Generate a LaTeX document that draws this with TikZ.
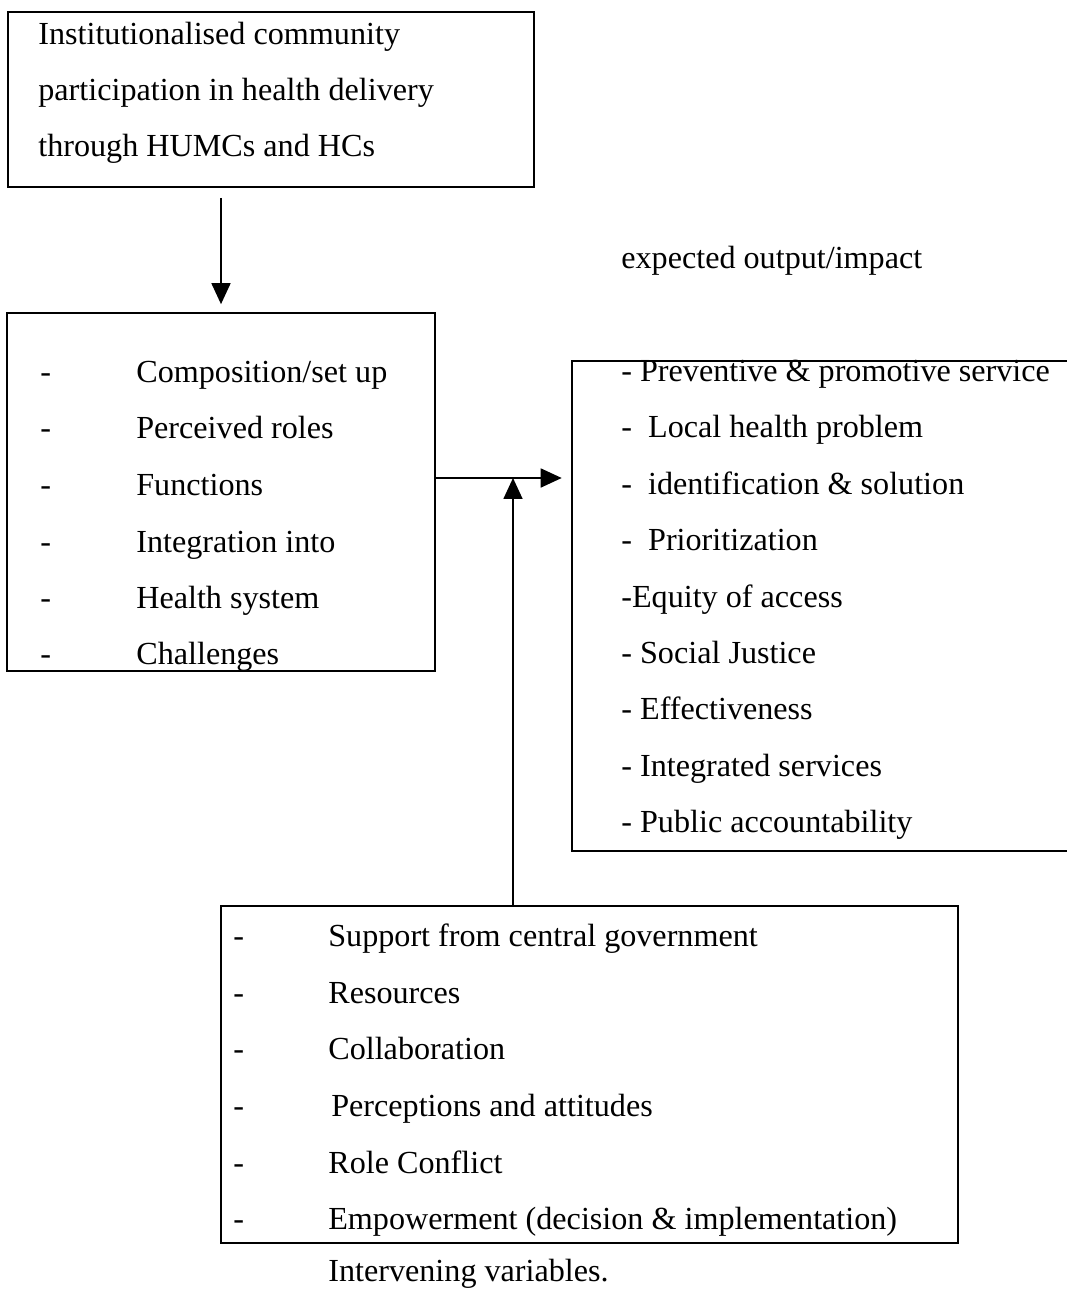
\documentclass[tikz,border=0pt]{standalone}
\usepackage{fontspec}
\setmainfont{Liberation Serif}
\usetikzlibrary{arrows.meta, positioning, calc}

\newcommand{\dashitem}[2][1.92cm]{\makebox[#1][l]{-}#2}

\begin{document}
\begin{tikzpicture}[
    x=0.02cm, y=-0.02cm,
    box/.style={
        rectangle,
        draw=black,
        line width=1pt,
        inner sep=0pt
    },
    item/.style={
        anchor=base west,
        inner sep=0pt,
        font=\fontsize{18.3}{22}\selectfont
    },
    arrow/.style={
        -{Triangle[length=0.42cm, width=0.38cm]},
        line width=1pt
    }
]
\useasboundingbox (0,0) rectangle (1067,1290);

% Participation box
\node[box, minimum width=10.52cm, minimum height=3.5cm] (part) at (271,99.5) {};
\node[item] (p1) at (38,45) {Institutionalised community};
\node[item] (p2) at (38,101) {participation in health delivery};
\node[item] (p3) at (38,157) {through HUMCs and HCs};

% Committees box
\node[box, minimum width=8.56cm, minimum height=7.16cm] (comm) at (221,492) {};
\node[item] (c1) at (40,382) {\dashitem{Composition/set up}};
\node[item] (c2) at (40,438) {\dashitem{Perceived roles}};
\node[item] (c3) at (40,495) {\dashitem{Functions}};
\node[item] (c4) at (40,552) {\dashitem{Integration into}};
\node[item] (c5) at (40,608) {\dashitem{Health system}};
\node[item] (c6) at (40,664) {\dashitem{Challenges}};

% Output box (open on the right)
\node[minimum width=9.9cm, minimum height=9.8cm, inner sep=0pt] (out) at (819.5,606) {};
\draw[line width=1pt] (out.north east) -- (out.north west) -- (out.south west) -- (out.south east);
\node[item] (olabel) at (621,269) {expected output/impact};
\node[item] (o1) at (621,381) {- Preventive \& promotive service};
\node[item] (o2) at (621,437) {-~~Local health problem};
\node[item] (o3) at (621,494) {-~~identification \& solution};
\node[item] (o4) at (621,550) {-~~Prioritization};
\node[item] (o5) at (621,607) {-Equity of access};
\node[item] (o6) at (621,663) {- Social Justice};
\node[item] (o7) at (621,719) {- Effectiveness};
\node[item] (o8) at (621,776) {- Integrated services};
\node[item] (o9) at (621,832) {- Public accountability};

% Intervening variables box
\node[box, minimum width=14.74cm, minimum height=6.74cm] (vars) at (589.5,1074.5) {};
\node[item] (v1) at (233,946) {\dashitem[1.9cm]{Support from central government}};
\node[item] (v2) at (233,1003) {\dashitem[1.9cm]{Resources}};
\node[item] (v3) at (233,1059) {\dashitem[1.9cm]{Collaboration}};
\node[item] (v4) at (233,1116) {\dashitem[1.96cm]{Perceptions and attitudes}};
\node[item] (v5) at (233,1173) {\dashitem[1.9cm]{Role Conflict}};
\node[item] (v6) at (233,1229) {\dashitem[1.9cm]{Empowerment (decision \& implementation)}};
\node[item] (vlabel) at (328,1281) {Intervening variables.};

% Arrows
\coordinate (jn) at (513,478);
\draw[arrow] ([yshift=-0.2cm]part.south -| comm.north) -- ([yshift=0.16cm]comm.north);
\draw[arrow] (comm.east |- jn) -- ([xshift=-0.2cm]out.west |- jn);
\draw[arrow] (vars.north -| jn) -- (jn);

\end{tikzpicture}
\end{document}
